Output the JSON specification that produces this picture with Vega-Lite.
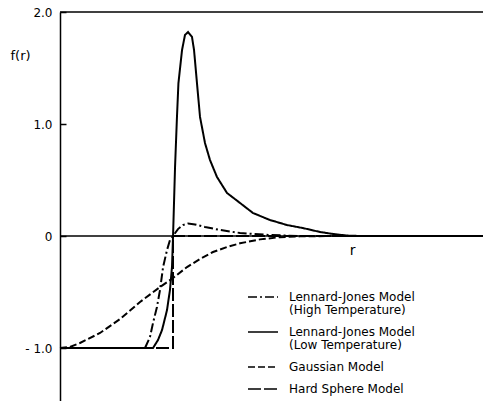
{
  "$schema": "https://vega.github.io/schema/vega-lite/v6.json",
  "width": 423,
  "height": 389,
  "autosize": {"type": "none"},
  "padding": {"left": 60, "top": 12, "right": 0, "bottom": 0},
  "background": "white",
  "config": {
    "view": {"stroke": null},
    "font": "DejaVu Sans",
    "style": {"guide-label": {"lineHeight": 13}}
  },
  "datasets": {
    "frame": [{"f": 0}, {"f": 2}],
    "curves": [
      {"model": "Lennard-Jones Model (High Temperature)", "i": 0, "r": 0, "f": -1},
      {"model": "Lennard-Jones Model (High Temperature)", "i": 1, "r": 0.752, "f": -1},
      {"model": "Lennard-Jones Model (High Temperature)", "i": 2, "r": 0.796, "f": -0.902},
      {"model": "Lennard-Jones Model (High Temperature)", "i": 3, "r": 0.823, "f": -0.777},
      {"model": "Lennard-Jones Model (High Temperature)", "i": 4, "r": 0.858, "f": -0.634},
      {"model": "Lennard-Jones Model (High Temperature)", "i": 5, "r": 0.885, "f": -0.482},
      {"model": "Lennard-Jones Model (High Temperature)", "i": 6, "r": 0.912, "f": -0.277},
      {"model": "Lennard-Jones Model (High Temperature)", "i": 7, "r": 0.947, "f": -0.125},
      {"model": "Lennard-Jones Model (High Temperature)", "i": 8, "r": 0.973, "f": -0.036},
      {"model": "Lennard-Jones Model (High Temperature)", "i": 9, "r": 1.0, "f": 0},
      {"model": "Lennard-Jones Model (High Temperature)", "i": 10, "r": 1.044, "f": 0.062},
      {"model": "Lennard-Jones Model (High Temperature)", "i": 11, "r": 1.088, "f": 0.098},
      {"model": "Lennard-Jones Model (High Temperature)", "i": 12, "r": 1.133, "f": 0.112},
      {"model": "Lennard-Jones Model (High Temperature)", "i": 13, "r": 1.195, "f": 0.103},
      {"model": "Lennard-Jones Model (High Temperature)", "i": 14, "r": 1.283, "f": 0.08},
      {"model": "Lennard-Jones Model (High Temperature)", "i": 15, "r": 1.416, "f": 0.054},
      {"model": "Lennard-Jones Model (High Temperature)", "i": 16, "r": 1.593, "f": 0.027},
      {"model": "Lennard-Jones Model (High Temperature)", "i": 17, "r": 1.858, "f": 0.009},
      {"model": "Lennard-Jones Model (High Temperature)", "i": 18, "r": 2.124, "f": 0},
      {"model": "Lennard-Jones Model (High Temperature)", "i": 19, "r": 3.743, "f": 0},

      {"model": "Lennard-Jones Model (Low Temperature)", "i": 0, "r": 0, "f": -1},
      {"model": "Lennard-Jones Model (Low Temperature)", "i": 1, "r": 0.823, "f": -1},
      {"model": "Lennard-Jones Model (Low Temperature)", "i": 2, "r": 0.867, "f": -0.929},
      {"model": "Lennard-Jones Model (Low Temperature)", "i": 3, "r": 0.903, "f": -0.839},
      {"model": "Lennard-Jones Model (Low Temperature)", "i": 4, "r": 0.947, "f": -0.661},
      {"model": "Lennard-Jones Model (Low Temperature)", "i": 5, "r": 0.973, "f": -0.482},
      {"model": "Lennard-Jones Model (Low Temperature)", "i": 6, "r": 0.991, "f": -0.277},
      {"model": "Lennard-Jones Model (Low Temperature)", "i": 7, "r": 1.0, "f": -0.01},
      {"model": "Lennard-Jones Model (Low Temperature)", "i": 8, "r": 1.018, "f": 0.616},
      {"model": "Lennard-Jones Model (Low Temperature)", "i": 9, "r": 1.035, "f": 1.063},
      {"model": "Lennard-Jones Model (Low Temperature)", "i": 10, "r": 1.048, "f": 1.366},
      {"model": "Lennard-Jones Model (Low Temperature)", "i": 11, "r": 1.08, "f": 1.661},
      {"model": "Lennard-Jones Model (Low Temperature)", "i": 12, "r": 1.106, "f": 1.795},
      {"model": "Lennard-Jones Model (Low Temperature)", "i": 13, "r": 1.133, "f": 1.821},
      {"model": "Lennard-Jones Model (Low Temperature)", "i": 14, "r": 1.168, "f": 1.777},
      {"model": "Lennard-Jones Model (Low Temperature)", "i": 15, "r": 1.186, "f": 1.661},
      {"model": "Lennard-Jones Model (Low Temperature)", "i": 16, "r": 1.212, "f": 1.366},
      {"model": "Lennard-Jones Model (Low Temperature)", "i": 17, "r": 1.239, "f": 1.063},
      {"model": "Lennard-Jones Model (Low Temperature)", "i": 18, "r": 1.283, "f": 0.83},
      {"model": "Lennard-Jones Model (Low Temperature)", "i": 19, "r": 1.327, "f": 0.679},
      {"model": "Lennard-Jones Model (Low Temperature)", "i": 20, "r": 1.389, "f": 0.527},
      {"model": "Lennard-Jones Model (Low Temperature)", "i": 21, "r": 1.478, "f": 0.384},
      {"model": "Lennard-Jones Model (Low Temperature)", "i": 22, "r": 1.593, "f": 0.295},
      {"model": "Lennard-Jones Model (Low Temperature)", "i": 23, "r": 1.708, "f": 0.205},
      {"model": "Lennard-Jones Model (Low Temperature)", "i": 24, "r": 1.858, "f": 0.143},
      {"model": "Lennard-Jones Model (Low Temperature)", "i": 25, "r": 2.009, "f": 0.098},
      {"model": "Lennard-Jones Model (Low Temperature)", "i": 26, "r": 2.15, "f": 0.071},
      {"model": "Lennard-Jones Model (Low Temperature)", "i": 27, "r": 2.301, "f": 0.036},
      {"model": "Lennard-Jones Model (Low Temperature)", "i": 28, "r": 2.416, "f": 0.018},
      {"model": "Lennard-Jones Model (Low Temperature)", "i": 29, "r": 2.54, "f": 0.004},
      {"model": "Lennard-Jones Model (Low Temperature)", "i": 30, "r": 2.655, "f": 0},
      {"model": "Lennard-Jones Model (Low Temperature)", "i": 31, "r": 3.743, "f": 0},

      {"model": "Gaussian Model", "i": 0, "r": 0, "f": -1},
      {"model": "Gaussian Model", "i": 1, "r": 0.088, "f": -0.99},
      {"model": "Gaussian Model", "i": 2, "r": 0.177, "f": -0.955},
      {"model": "Gaussian Model", "i": 3, "r": 0.354, "f": -0.866},
      {"model": "Gaussian Model", "i": 4, "r": 0.531, "f": -0.741},
      {"model": "Gaussian Model", "i": 5, "r": 0.708, "f": -0.589},
      {"model": "Gaussian Model", "i": 6, "r": 0.885, "f": -0.455},
      {"model": "Gaussian Model", "i": 7, "r": 1.0, "f": -0.375},
      {"model": "Gaussian Model", "i": 8, "r": 1.124, "f": -0.277},
      {"model": "Gaussian Model", "i": 9, "r": 1.239, "f": -0.205},
      {"model": "Gaussian Model", "i": 10, "r": 1.354, "f": -0.143},
      {"model": "Gaussian Model", "i": 11, "r": 1.478, "f": -0.098},
      {"model": "Gaussian Model", "i": 12, "r": 1.593, "f": -0.065},
      {"model": "Gaussian Model", "i": 13, "r": 1.77, "f": -0.03},
      {"model": "Gaussian Model", "i": 14, "r": 1.947, "f": -0.01},
      {"model": "Gaussian Model", "i": 15, "r": 2.124, "f": -0.003},
      {"model": "Gaussian Model", "i": 16, "r": 2.389, "f": 0},

      {"model": "Hard Sphere Model", "i": 0, "r": 0, "f": -1},
      {"model": "Hard Sphere Model", "i": 1, "r": 1.0, "f": -1},
      {"model": "Hard Sphere Model", "i": 2, "r": 1.0, "f": 0},
      {"model": "Hard Sphere Model", "i": 3, "r": 3.743, "f": 0}
    ]
  },
  "encoding": {
    "y": {
      "field": "f", "type": "quantitative",
      "scale": {"domain": [-1.473, 2.0], "nice": false, "zero": false},
      "axis": {
        "values": [-1, 0, 1, 2],
        "grid": false,
        "domain": true, "domainColor": "black", "domainWidth": 1.5,
        "ticks": true, "tickSize": -6, "tickColor": "black", "tickWidth": 1.5,
        "labelPadding": 14, "labelFontSize": 12, "labelColor": "black", "labelFont": "DejaVu Sans",
        "labelExpr": "datum.value == 0 ? '0' : datum.value == -1 ? '- 1.0' : format(datum.value, '.1f')",
        "title": "f(r)", "titleAngle": 0, "titleX": -50, "titleY": 43,
        "titleAlign": "left", "titleBaseline": "middle", "titleFontSize": 13,
        "titleFontWeight": "normal", "titleFont": "DejaVu Sans", "titleColor": "black"
      }
    }
  },
  "layer": [
    {
      "data": {"name": "frame"},
      "mark": {"type": "rule", "stroke": "black", "strokeWidth": 1.5},
      "encoding": {}
    },
    {
      "data": {"name": "curves"},
      "mark": {"type": "line", "stroke": "black", "strokeWidth": 2, "interpolate": "linear"},
      "encoding": {
        "x": {
          "field": "r", "type": "quantitative",
          "scale": {"domain": [0, 3.743], "nice": false, "zero": false},
          "axis": {
            "domain": false, "ticks": false, "labels": false, "grid": false,
            "title": "r", "titleX": 292, "titleY": -151, "titleFontSize": 14,
            "titleFontWeight": "normal", "titleAlign": "center", "titleBaseline": "middle",
            "titleFont": "DejaVu Sans", "titleColor": "black"
          }
        },
        "order": {"field": "i", "type": "quantitative"},
        "strokeDash": {
          "field": "model", "type": "nominal",
          "scale": {
            "domain": ["Lennard-Jones Model (High Temperature)", "Lennard-Jones Model (Low Temperature)", "Gaussian Model", "Hard Sphere Model"],
            "range": [[9, 3, 2, 3], [1, 0], [7, 3], [13, 3]]
          },
          "legend": {
            "orient": "none", "legendX": 187, "legendY": 269,
            "title": null, "padding": 0,
            "symbolType": "M-1,0H1", "symbolSize": 900, "symbolStrokeWidth": 1.5,
            "symbolStrokeColor": "black", "symbolFillColor": "transparent",
            "labelFontSize": 12, "labelFont": "DejaVu Sans",
            "labelColor": "black", "labelOffset": 10, "labelLimit": 300, "rowPadding": 0,
            "labelExpr": "indexof(datum.label, ' (') > 0 ? [slice(datum.label, 0, indexof(datum.label, ' (')), slice(datum.label, indexof(datum.label, ' (') + 1)] : datum.label"
          }
        }
      }
    }
  ]
}
